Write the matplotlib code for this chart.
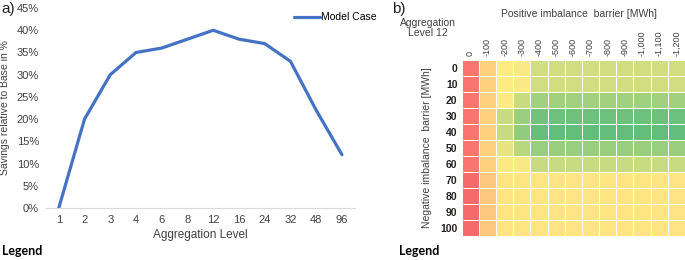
import matplotlib.pyplot as plt
from matplotlib.colors import LinearSegmentedColormap
import numpy as np

# left panel: savings per aggregation level
agg_levels = ["1", "2", "3", "4", "6", "8", "12", "16", "24", "32", "48", "96"]
savings = [0.0, 0.20, 0.30, 0.35, 0.36, 0.38, 0.40, 0.38, 0.37, 0.33, 0.22, 0.12]

# right panel: heatmap for aggregation level 12
pos_barrier = ["0", "-100", "-200", "-300", "-400", "-500", "-600", "-700",
               "-800", "-900", "-1,000", "-1,100", "-1,200"]
neg_barrier = ["0", "10", "20", "30", "40", "50", "60", "70", "80", "90", "100"]
heat = [
    [2, 16, 20, 20.5, 26, 26, 26, 26, 26, 26, 26, 26, 26],
    [2, 16, 20, 20.5, 26, 26, 26, 26, 26, 26, 26, 26, 26],
    [2, 16, 20.5, 27, 32, 32, 32, 32, 32, 32, 32, 32, 32],
    [2, 16, 27, 33, 38, 38.5, 38.5, 38.5, 38.5, 38.5, 38.5, 38.5, 38.5],
    [2, 16, 27, 34, 39.5, 40, 40, 40, 40, 40, 40, 40, 40],
    [2, 16, 23, 29, 33, 33, 33, 33, 33, 33, 33, 33, 33],
    [2, 16, 20.5, 21, 27, 27, 27, 27, 27, 27, 27, 27, 27],
    [0, 14.5, 19, 19, 19, 19, 19, 19, 19, 19, 19, 19, 19],
    [0, 14.5, 19, 19, 19, 19, 19, 19, 19, 19, 19, 19, 19],
    [0, 14.5, 19, 19, 19, 19, 19, 19, 19, 19, 19, 19, 19],
    [0, 14.5, 19, 19, 19, 19, 19, 19, 19, 19, 19, 19, 19],
]

plt.rcParams['font.family'] = ['Liberation Sans', 'DejaVu Sans']
txt = '#404040'

fig = plt.figure(figsize=(6.85, 2.6), dpi=100)

# ---- a) line chart
ax = fig.add_axes([0.067, 0.2, 0.451, 0.769])
x = np.arange(len(agg_levels))
ax.plot(x, savings, color='#4472C4', lw=2.3, label='Model Case', solid_capstyle='round')
ax.set_xlim(-0.5, len(agg_levels) - 0.5)
ax.set_ylim(0, 0.45)
ax.set_xticks(x)
ax.set_xticklabels(agg_levels)
ax.set_yticks(np.arange(0, 0.46, 0.05))
ax.set_yticklabels(["{}%".format(int(round(v * 100))) for v in np.arange(0, 0.46, 0.05)])
ax.tick_params(length=0, labelsize=8, colors=txt, pad=5)
for s in ['top', 'right', 'left']:
    ax.spines[s].set_visible(False)
ax.spines['bottom'].set_color('#d9d9d9')
ax.set_xlabel("Aggregation Level", fontsize=8.5, color=txt, labelpad=3)
ax.set_ylabel("Savings relative to Base in %", fontsize=7.5, color=txt, labelpad=5)
ax.legend(loc='upper right', bbox_to_anchor=(1.085, 1.0), frameon=False, fontsize=7.5,
          handlelength=2.5, handletextpad=0.1, borderaxespad=0)

fig.text(0.002, 0.965, "a)", fontsize=11, color='#222222', va='center')
fig.text(0.003, 0.035, "Legend", fontsize=9, fontweight='bold', family='Lato', va='center')

# ---- b) heatmap
cmap = LinearSegmentedColormap.from_list('rdylgn_xl', ['#F8696B', '#FFEB84', '#63BE7B'])
hx = fig.add_axes([0.674, 0.092, 0.326, 0.677])
hx.pcolormesh(np.array(heat), cmap=cmap, vmin=0, vmax=40, edgecolors='white', linewidth=0.6)
hx.set_xlim(0, len(pos_barrier))
hx.set_ylim(len(neg_barrier), 0)
hx.set_xticks(np.arange(len(pos_barrier)) + 0.5)
hx.set_xticklabels(pos_barrier, rotation=90, fontsize=6.5, color=txt)
hx.set_yticks(np.arange(len(neg_barrier)) + 0.5)
hx.set_yticklabels(neg_barrier, fontsize=7.5, fontweight='bold', color='#222222')
hx.xaxis.tick_top()
hx.tick_params(length=0, pad=3)
for s in hx.spines.values():
    s.set_visible(False)
hx.set_ylabel("Negative imbalance  barrier [MWh]", fontsize=7.5, color=txt, labelpad=6)

fig.text(0.845, 0.945, "Positive imbalance  barrier [MWh]", fontsize=7.5, color=txt, ha='center', va='center')
fig.text(0.625, 0.893, "Aggregation\nLevel 12", fontsize=7.5, color=txt, ha='center', va='center',
         linespacing=1.0)
fig.text(0.572, 0.965, "b)", fontsize=11, color='#222222', va='center')
fig.text(0.582, 0.035, "Legend", fontsize=9, fontweight='bold', family='Lato', va='center')

plt.savefig("out.png", dpi=100)
plt.close('all')
